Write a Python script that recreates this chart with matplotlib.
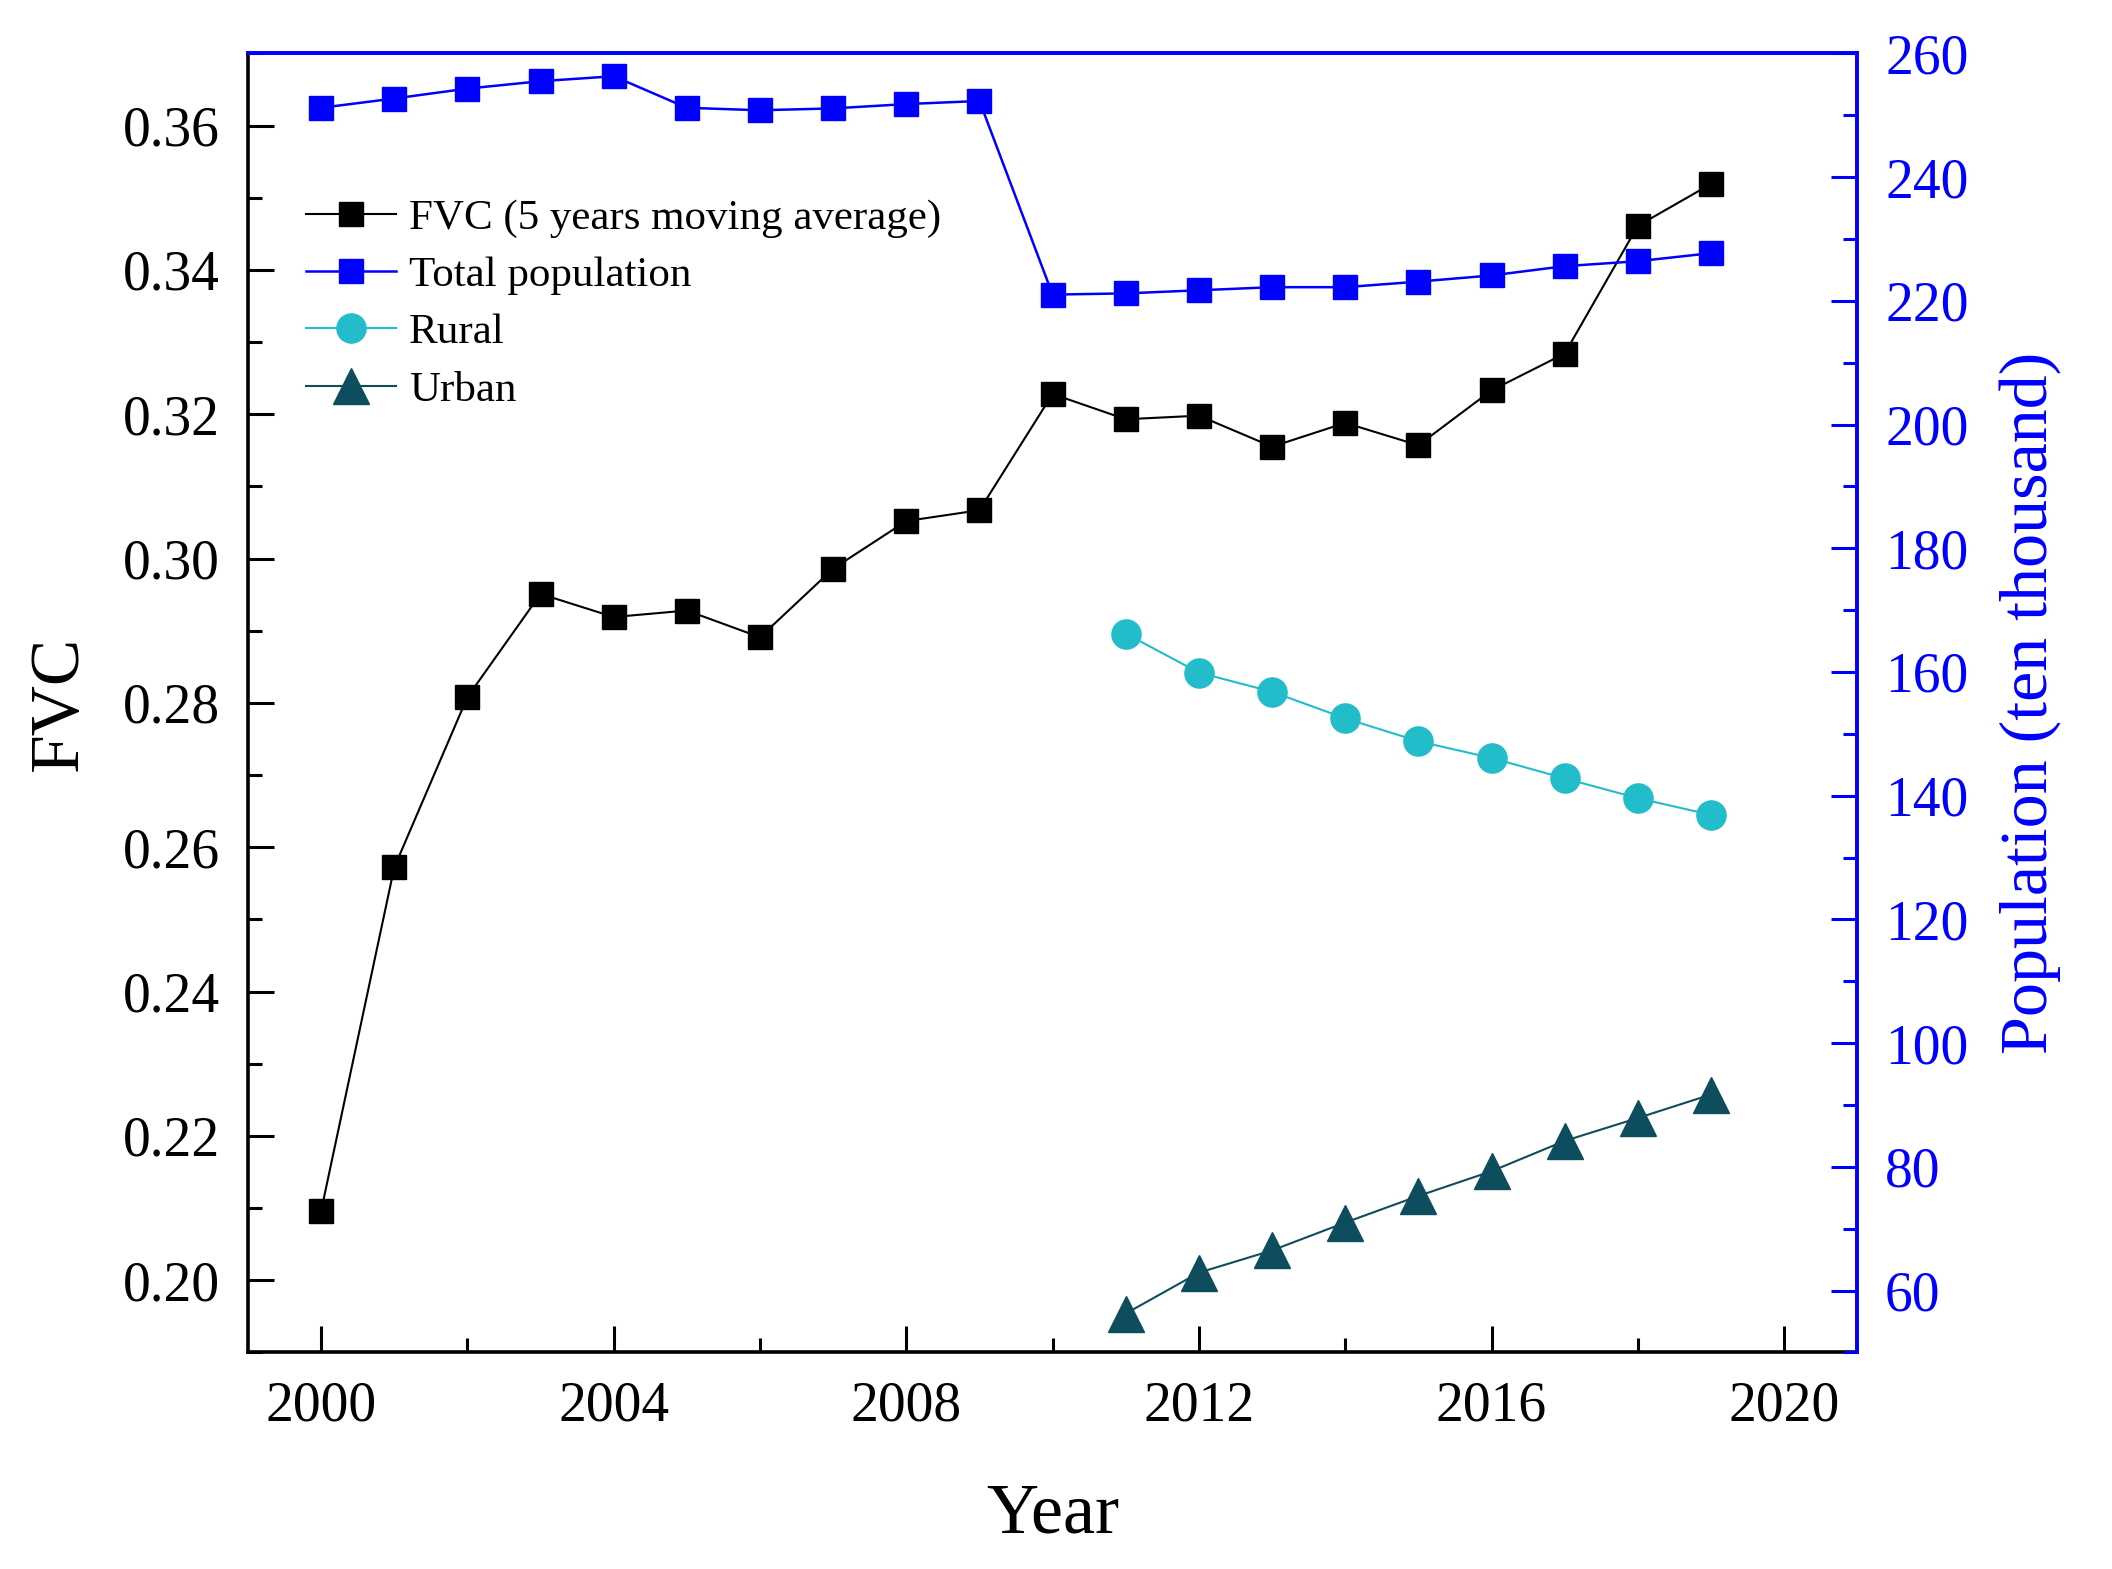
import matplotlib
matplotlib.use("Agg")
import matplotlib.pyplot as plt
from matplotlib.ticker import MultipleLocator, FormatStrFormatter

plt.rcParams['font.family'] = ['Liberation Serif', 'DejaVu Serif']

years = list(range(2000, 2020))
fvc = [0.2096, 0.2572, 0.2808, 0.2951, 0.2919, 0.2928, 0.2891, 0.2986, 0.3052, 0.3067,
       0.3228, 0.3193, 0.3198, 0.3155, 0.3188, 0.3157, 0.3233, 0.3284, 0.3461, 0.3519]
total_pop = [251.2, 252.7, 254.3, 255.5, 256.3, 251.2, 250.8, 251.1, 251.8, 252.3,
             221.0, 221.2, 221.7, 222.2, 222.2, 223.1, 224.1, 225.6, 226.4, 227.7]
years_ru = list(range(2011, 2020))
rural = [166.2, 159.9, 156.8, 152.5, 148.8, 146.1, 142.8, 139.6, 136.9]
urban = [56.3, 62.9, 66.5, 71.0, 75.3, 79.3, 84.2, 87.9, 91.7]

BLUE = '#0000FF'
CYAN = '#22BCCB'
TEAL = '#0E4D5E'

fig = plt.figure(figsize=(21.12, 15.69), dpi=100)
ax = fig.add_axes([0.1174, 0.138, 0.762, 0.828])
ax2 = ax.twinx()

l1, = ax.plot(years, fvc, color='black', lw=1.5, marker='s', ms=17,
              mfc='black', mec='black', label='FVC (5 years moving average)')
l2, = ax2.plot(years, total_pop, color=BLUE, lw=1.8, marker='s', ms=17,
               mfc=BLUE, mec=BLUE, label='Total population')
l3, = ax2.plot(years_ru, rural, color=CYAN, lw=1.5, marker='o', ms=21,
               mfc=CYAN, mec=CYAN, label='Rural')
l4, = ax2.plot(years_ru, urban, color=TEAL, lw=1.5, marker='^', ms=26,
               mfc=TEAL, mec=TEAL, label='Urban')

ax.set_xlim(1999, 2021)
ax.set_ylim(0.19, 0.37)
ax2.set_ylim(50, 260)

ax.xaxis.set_major_locator(MultipleLocator(4))
ax.xaxis.set_minor_locator(MultipleLocator(2))
ax.yaxis.set_major_locator(MultipleLocator(0.02))
ax.yaxis.set_minor_locator(MultipleLocator(0.01))
ax2.yaxis.set_major_locator(MultipleLocator(20))
ax2.yaxis.set_minor_locator(MultipleLocator(10))
ax.yaxis.set_major_formatter(FormatStrFormatter('%.2f'))

ax.tick_params(axis='both', which='major', direction='in', length=19, width=2.2,
               labelsize=40, pad=20, right=False, top=False)
ax.tick_params(axis='both', which='minor', direction='in', length=10, width=2.2,
               right=False, top=False)
ax2.tick_params(axis='y', which='major', direction='in', length=19, width=2.2,
                labelsize=40, pad=20, colors=BLUE)
ax2.tick_params(axis='y', which='minor', direction='in', length=10, width=2.2, colors=BLUE)

for sp in ['left', 'bottom']:
    ax.spines[sp].set_linewidth(2.6)
    ax.spines[sp].set_color('black')
for a in (ax, ax2):
    a.spines['top'].set_color(BLUE)
    a.spines['top'].set_linewidth(2.6)
    a.spines['right'].set_color(BLUE)
    a.spines['right'].set_linewidth(2.6)
ax2.spines['left'].set_visible(False)
ax2.spines['bottom'].set_visible(False)

ax.set_xlabel('Year', fontsize=52, labelpad=36)
ax.set_ylabel('FVC', fontsize=50, labelpad=22)
ax2.set_ylabel('Population (ten thousand)', fontsize=49, color=BLUE, labelpad=22)

ax2.legend(handles=[l1, l2, l3, l4], loc='upper left', bbox_to_anchor=(0.036, 0.888),
           frameon=False, fontsize=31, handlelength=2.1, handletextpad=0.3,
           labelspacing=0.42, borderaxespad=0, borderpad=0)

fig.savefig('out.png', dpi=100)
